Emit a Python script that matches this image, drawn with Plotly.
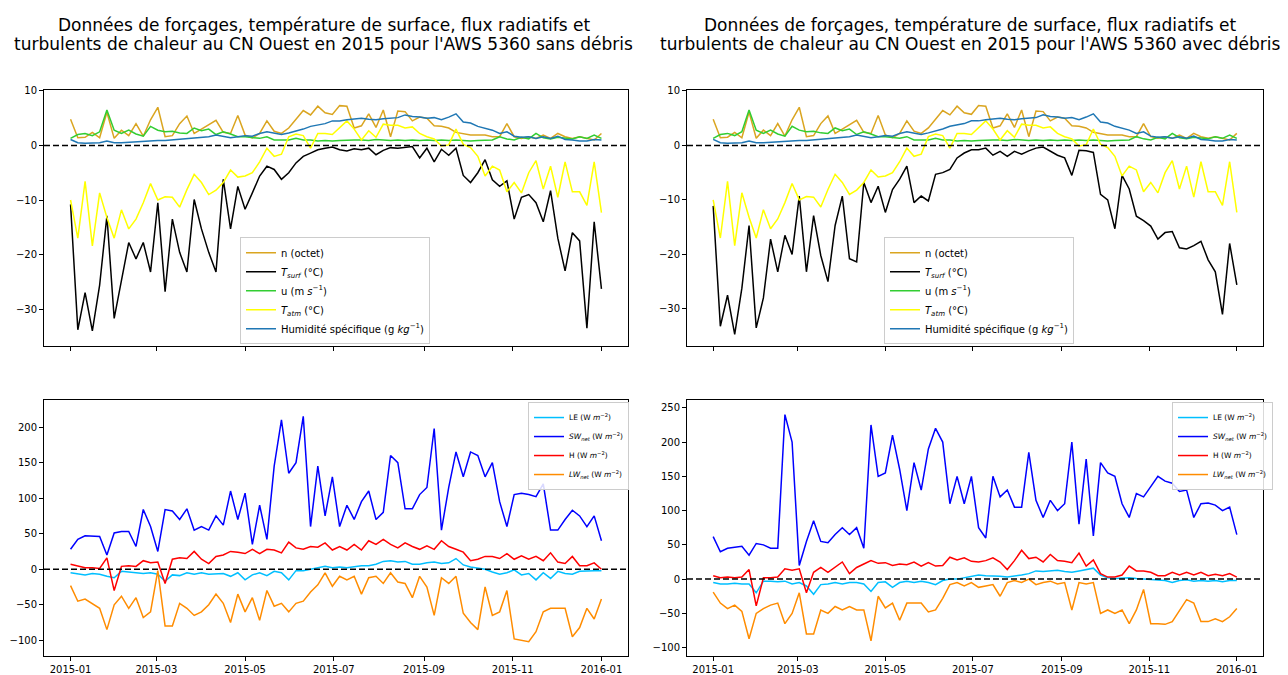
import pandas as pd
import plotly.graph_objects as go
from plotly.subplots import make_subplots

# dates every 5 days over 2015
dates = pd.date_range("2015-01-01", "2016-01-01", freq="5D")

# top panels (forcings, shared by both columns)
n_octet = [4.8, 1.4, 1.5, 2.4, 1.4, 6.1, 1.3, 2.8, 1.8, 4.0, 1.7, 4.7, 7.0, 1.6, 1.8, 4.0, 5.4, 2.2, 3.0, 3.8,
           4.6, 2.4, 2.2, 5.5, 1.9, 1.4, 2.2, 4.5, 2.6, 2.2, 3.2, 4.8, 6.4, 5.6, 7.2, 6.0, 5.7,
           7.3, 7.2, 3.2, 3.6, 5.8, 3.3, 6.5, 1.6, 6.3, 6.2, 4.5, 5.2, 5.0, 3.6, 3.5, 3.2, 2.4, 2.2, 1.9, 1.9,
           1.9, 1.6, 1.6, 4.0, 1.6, 1.3, 1.6, 1.3, 1.9, 1.3, 2.2, 1.6, 1.3, 1.6, 1.3, 1.0, 2.2]
t_atm = [-10.0, -17.0, -6.6, -18.4, -8.7, -13.2, -17.0, -11.8, -15.3, -13.5, -10.5, -7.0, -10.0, -9.4, -9.5,
         -11.3, -8.1, -5.3, -6.8, -9.0, -8.2, -6.8, -4.5, -5.8, -5.6, -5.0, -3.0, -0.5, -2.0, -1.6, 1.6, 2.1,
         1.8, -0.5, 2.2, 2.2, 2.0,
         3.2, 4.5, 3.0, 1.0, 2.7, 1.5, 3.9, 3.7, 3.7, 3.2, 3.4, 2.2, 1.6, 1.2, -0.1, 0.1, 3.0, 0.2, -0.4, -2.0,
         -5.6, -3.8, -4.5, -8.5, -6.8, -8.7, -5.0, -2.8, -8.0, -3.8, -9.5, -3.0, -8.5, -8.5, -11.0, -3.0, -12.3]
u_wind = [1.3, 2.0, 2.2, 1.8, 2.5, 6.5, 2.8, 2.2, 2.8, 2.1, 1.7, 3.5, 2.8, 2.5, 2.6, 2.3, 2.2, 3.2, 2.7, 3.0,
          2.0, 2.5, 2.1, 1.6, 1.6, 1.4, 1.3, 1.6, 1.0, 1.0, 1.0, 1.3, 1.0, 1.0, 0.8, 0.9, 0.8,
          0.9, 1.0, 1.0, 1.0, 0.9, 1.1, 1.0, 0.9, 1.0, 0.9, 1.0, 0.9, 1.0, 0.9, 1.0, 0.9, 1.0, 0.9, 0.8, 0.9,
          0.9, 1.0, 1.6, 1.2, 1.0, 1.5, 1.2, 2.2, 1.4, 1.2, 1.5, 1.3, 1.2, 1.6, 1.3, 1.9, 1.3]
q_hum = [1.1, 0.5, 0.4, 0.4, 0.5, 0.8, 0.5, 0.5, 0.6, 0.7, 0.7, 0.8, 0.9, 0.9, 1.0, 1.1, 1.2, 1.4, 1.5, 1.6,
         1.9, 1.7, 1.4, 1.6, 1.8, 1.7, 2.2, 2.5, 2.2, 2.0, 2.3, 2.6, 3.0, 3.5, 3.7, 4.0, 4.5,
         4.5, 4.7, 4.8, 5.0, 4.8, 4.7, 4.9, 5.0, 5.1, 5.6, 5.3, 5.2, 5.0, 5.1, 4.7, 5.2, 5.8, 4.3, 4.1, 3.5,
         3.2, 2.8, 2.2, 2.5, 1.7, 1.5, 1.6, 1.3, 1.6, 1.3, 1.7, 1.1, 1.0, 0.8, 0.8, 1.1, 1.0]

# surface temperature, without / with debris
t_surf_sans = [-10.8, -33.8, -27.0, -34.0, -25.6, -12.9, -31.7, -24.4, -17.8, -20.8, -17.8, -23.2, -10.5, -26.8,
               -13.5, -19.6, -23.2, -9.9, -15.3, -19.6, -23.2, -6.2, -15.3, -7.5, -11.7, -8.7, -5.6, -3.8, -4.4,
               -6.2, -5.0, -3.2, -2.0, -1.4, -0.8, -0.5, -0.3,
               -0.8, -1.0, -0.6, -0.8, -0.5, -1.7, -0.9, -0.4, -0.5, -0.3, -0.2, -2.3, -0.5, -3.0, -0.7, -1.8,
               -0.5, -5.5, -6.8, -5.0, -2.6, -6.3, -7.5, -6.5, -13.5, -9.5, -9.0, -10.5, -14.0, -8.3, -17.0,
               -23.0, -16.0, -17.5, -33.5, -14.0, -26.3]
t_surf_avec = [-11.1, -33.2, -27.5, -34.7, -26.2, -14.7, -33.5, -28.0, -17.2, -23.2, -16.5, -20.0, -9.3, -23.2,
               -12.9, -20.2, -25.0, -14.7, -9.3, -20.8, -21.4, -6.8, -10.5, -7.5, -12.3, -8.1, -6.2, -3.8, -10.5,
               -9.3, -10.2, -5.3, -5.0, -4.4, -2.3, -1.4, -0.8,
               -0.8, -0.5, -1.8, -1.1, -2.0, -1.1, -1.6, -1.0, -0.5, -0.3, -1.0, -1.8, -2.3, -5.5, -0.9, -1.0,
               -1.3, -9.0, -10.0, -15.3, -5.5, -8.0, -13.0, -13.8, -14.8, -17.2, -16.0, -15.8, -18.8, -19.0,
               -18.4, -17.6, -21.0, -23.2, -31.0, -18.0, -25.6]

# fluxes, without debris
le_sans = [-5, -7, -8, -6, -7, -10, -12, -3, -4, -4, -6, -5, -7, -17, -8, -9, -5, -7, -5, -7, -7, -6, -10, -5,
           -15, -8, -5, -9, -3, -5, -15, -2, -2, 0, 2, 4, 2,
           3, 2, 4, 5, 5, 7, 11, 12, 10, 11, 7, 7, 9, 10, 8, 9, 15, 6, 3, 2, 0, -4, -7, -5, -1, -8, -6, -15, -5,
           -13, -3, -6, -7, -3, -2, -2, -2]
sw_sans = [28, 42, 47, 47, 46, 20, 51, 53, 53, 32, 84, 60, 25, 84, 82, 70, 85, 55, 60, 55, 75, 62, 110, 70, 107,
           35, 90, 42, 145, 210, 135, 150, 215, 60, 145, 75, 130,
           60, 90, 70, 95, 110, 70, 80, 160, 150, 85, 85, 105, 115, 198, 55, 115, 165, 130, 165, 160, 130, 150,
           95, 60, 105, 107, 105, 102, 120, 55, 55, 70, 83, 75, 60, 75, 40]
h_sans = [7, 4, 2, 2, 1, 16, -30, 4, 5, 4, 12, 9, 10, -20, 14, 16, 15, 25, 14, 8, 18, 20, 25, 24, 22, 28, 22, 28,
          27, 23, 38, 30, 28, 32, 31, 37, 27,
          32, 27, 35, 27, 40, 35, 42, 35, 30, 37, 32, 28, 33, 28, 40, 32, 28, 24, 12, 14, 18, 18, 15, 22, 14, 19,
          14, 18, 12, 23, 10, 8, 18, 5, 5, 9, 0]
lw_sans = [-23, -45, -42, -49, -55, -85, -50, -38, -55, -40, -68, -60, -2, -80, -80, -48, -55, -65, -60, -50, -35,
           -48, -75, -35, -60, -40, -72, -30, -52, -48, -60, -48, -45, -32, -22, -5, -24,
           -10, -15, -10, -35, -12, -10, -20, -5, -18, -20, -40, -10, -25, -65, -12, -20, -10, -62, -75, -85, -25,
           -65, -60, -30, -98, -100, -102, -88, -60, -55, -55, -55, -95, -82, -55, -70, -42]

# fluxes, with debris
le_avec = [-5, -7, -7, -6, -7, -7, -20, -3, -3, -4, -3, -7, -5, -10, -22, -8, -7, -5, -7, -5, -5, -7, -18, -5, -4,
           -12, -5, -3, -5, -3, -5, -8, -2, 0, 0, 2, 5,
           6, 5, 5, 4, 3, 4, 6, 8, 12, 11, 12, 13, 11, 10, 12, 14, 16, 6, 2, 1, 2, 2, 1, 0, 0, -1, -2, -5, -2, -1,
           -3, -2, -3, -2, -4, -2, -2]
sw_avec = [62, 40, 45, 47, 48, 35, 52, 50, 45, 45, 240, 200, 20, 55, 85, 55, 53, 65, 75, 65, 75, 45, 225, 150,
           155, 210, 160, 100, 170, 130, 190, 220, 200, 110, 150, 110, 150,
           75, 60, 150, 120, 130, 105, 105, 185, 115, 90, 115, 100, 110, 200, 80, 175, 63, 170, 155, 150, 110, 90,
           125, 120, 135, 150, 143, 140, 128, 130, 90, 110, 111, 108, 100, 105, 65]
h_avec = [5, 2, 3, 2, 3, 14, -39, 2, 2, 3, 15, 13, 15, -20, 10, 17, 10, 18, 25, 8, 17, 22, 27, 23, 24, 20, 22, 21,
          25, 19, 24, 19, 20, 32, 28, 31, 26,
          25, 27, 31, 25, 14, 27, 42, 30, 32, 25, 36, 27, 26, 24, 38, 19, 28, 8, 3, 3, 6, 19, 12, 12, 10, 5, 5, 10,
          6, 10, 6, 10, 5, 7, 5, 8, 3]
lw_avec = [-19, -35, -43, -38, -47, -87, -50, -43, -38, -35, -65, -50, -20, -80, -80, -45, -50, -40, -45, -40, -45,
           -45, -90, -25, -42, -35, -60, -35, -35, -35, -48, -45, -28, -8, -5, -10, -5,
           -12, -10, -8, -25, -5, -2, -5, 0, -8, -5, -3, -7, -5, -45, -5, -7, -5, -50, -45, -50, -45, -65, -45,
           -15, -65, -65, -66, -62, -45, -30, -35, -62, -62, -58, -62, -55, -43]

month_ticks = ["2015-01-01", "2015-03-01", "2015-05-01", "2015-07-01", "2015-09-01", "2015-11-01", "2016-01-01"]
month_labels = ["2015-01", "2015-03", "2015-05", "2015-07", "2015-09", "2015-11", "2016-01"]

title_line1 = "Données de forçages, température de surface, flux radiatifs et"
title_line2 = ["turbulents de chaleur au CN Ouest en 2015 pour l'AWS 5360 sans débris",
               "turbulents de chaleur au CN Ouest en 2015 pour l'AWS 5360 avec débris"]

FONT = "DejaVu Sans"
W, H = 1288, 675

fig = make_subplots(rows=2, cols=2)


def add_line(y, name, color, row, col, legend):
    fig.add_trace(go.Scatter(x=dates, y=y, mode='lines', name=name,
                             line=dict(color=color, width=1.5),
                             legend=legend, hoverinfo='skip'),
                  row=row, col=col)


for col, (t_surf, leg) in enumerate([(t_surf_sans, 'legend'), (t_surf_avec, 'legend2')], start=1):
    add_line(n_octet, "n (octet)", '#DAA520', 1, col, leg)
    add_line(t_surf, "<i>T<sub>surf</sub></i> (°C)", 'black', 1, col, leg)
    add_line(u_wind, "u (m <i>s</i><sup>−1</sup>)", '#32CD32', 1, col, leg)
    add_line(t_atm, "<i>T<sub>atm</sub></i> (°C)", '#FFFF00', 1, col, leg)
    add_line(q_hum, "Humidité spécifique (g <i>kg</i><sup>−1</sup>)", '#1f77b4', 1, col, leg)

for col, (le, sw, h, lw, leg) in enumerate([(le_sans, sw_sans, h_sans, lw_sans, 'legend3'),
                                            (le_avec, sw_avec, h_avec, lw_avec, 'legend4')], start=1):
    add_line(le, "LE (W <i>m</i><sup>−2</sup>)", '#00BFFF', 2, col, leg)
    add_line(sw, "<i>SW<sub>net</sub></i> (W <i>m</i><sup>−2</sup>)", 'blue', 2, col, leg)
    add_line(h, "H (W <i>m</i><sup>−2</sup>)", 'red', 2, col, leg)
    add_line(lw, "<i>LW<sub>net</sub></i> (W <i>m</i><sup>−2</sup>)", '#FF8C00', 2, col, leg)

# zero reference lines
for r in (1, 2):
    for c in (1, 2):
        fig.add_hline(y=0, line=dict(color='black', dash='6px,3px', width=1.5), row=r, col=c)

# axes layout (pixel positions converted to paper fractions)
x_domains = {1: [44 / W, 628 / W], 2: [687 / W, 1263 / W]}
y_domains = {1: [1 - 344 / H, 1 - 86 / H], 2: [1 - 656 / H, 1 - 398 / H]}
y_ranges = {(1, 1): [-36.85, 10.1], (1, 2): [-36.9, 10.1], (2, 1): [-122.3, 238], (2, 2): [-112.4, 261.3]}

axis_style = dict(showline=True, mirror=True, linecolor='black', linewidth=1,
                  ticks='outside', ticklen=4, tickwidth=1, tickcolor='black',
                  showgrid=False, zeroline=False,
                  tickfont=dict(family=FONT, size=10, color='black'))

for r in (1, 2):
    for c in (1, 2):
        fig.update_xaxes(type='date', domain=x_domains[c],
                         range=["2014-12-13 18:00", "2016-01-19 06:00"],
                         tickvals=month_ticks, ticktext=month_labels,
                         showticklabels=(r == 2), row=r, col=c, **axis_style)
        ykw = dict(domain=y_domains[r], range=y_ranges[(r, c)])
        if r == 1:
            ykw.update(tickvals=[-30, -20, -10, 0, 10])
        else:
            ykw.update(dtick=50)
        fig.update_yaxes(row=r, col=c, **ykw, **axis_style)

legend_common = dict(bgcolor='rgba(255,255,255,0.85)', bordercolor='#cccccc', borderwidth=1,
                     xanchor='left', yanchor='top', tracegroupgap=0, itemwidth=30)

fig.update_layout(
    width=W, height=H,
    margin=dict(l=0, r=0, t=0, b=0),
    paper_bgcolor='white', plot_bgcolor='white',
    font=dict(family=FONT, color='black'),
    legend=dict(x=240 / W, y=1 - 234 / H, font=dict(size=10), **legend_common),
    legend2=dict(x=884 / W, y=1 - 234 / H, font=dict(size=10), **legend_common),
    legend3=dict(x=528 / W, y=1 - 400 / H, font=dict(size=7.5), **legend_common),
    legend4=dict(x=1172 / W, y=1 - 400 / H, font=dict(size=7.5), **legend_common),
)

for x_center, line2 in zip([324 / W, 970 / W], title_line2):
    for y_px, text in [(20, title_line1), (39, line2)]:
        fig.add_annotation(x=x_center, y=1 - y_px / H, xref='paper', yref='paper',
                           xanchor='center', yanchor='middle', showarrow=False,
                           text=text, font=dict(family=FONT, size=17, color='black'))

fig.write_html("out.html", config={'displayModeBar': False},
               post_script="document.body.style.margin='0';")
